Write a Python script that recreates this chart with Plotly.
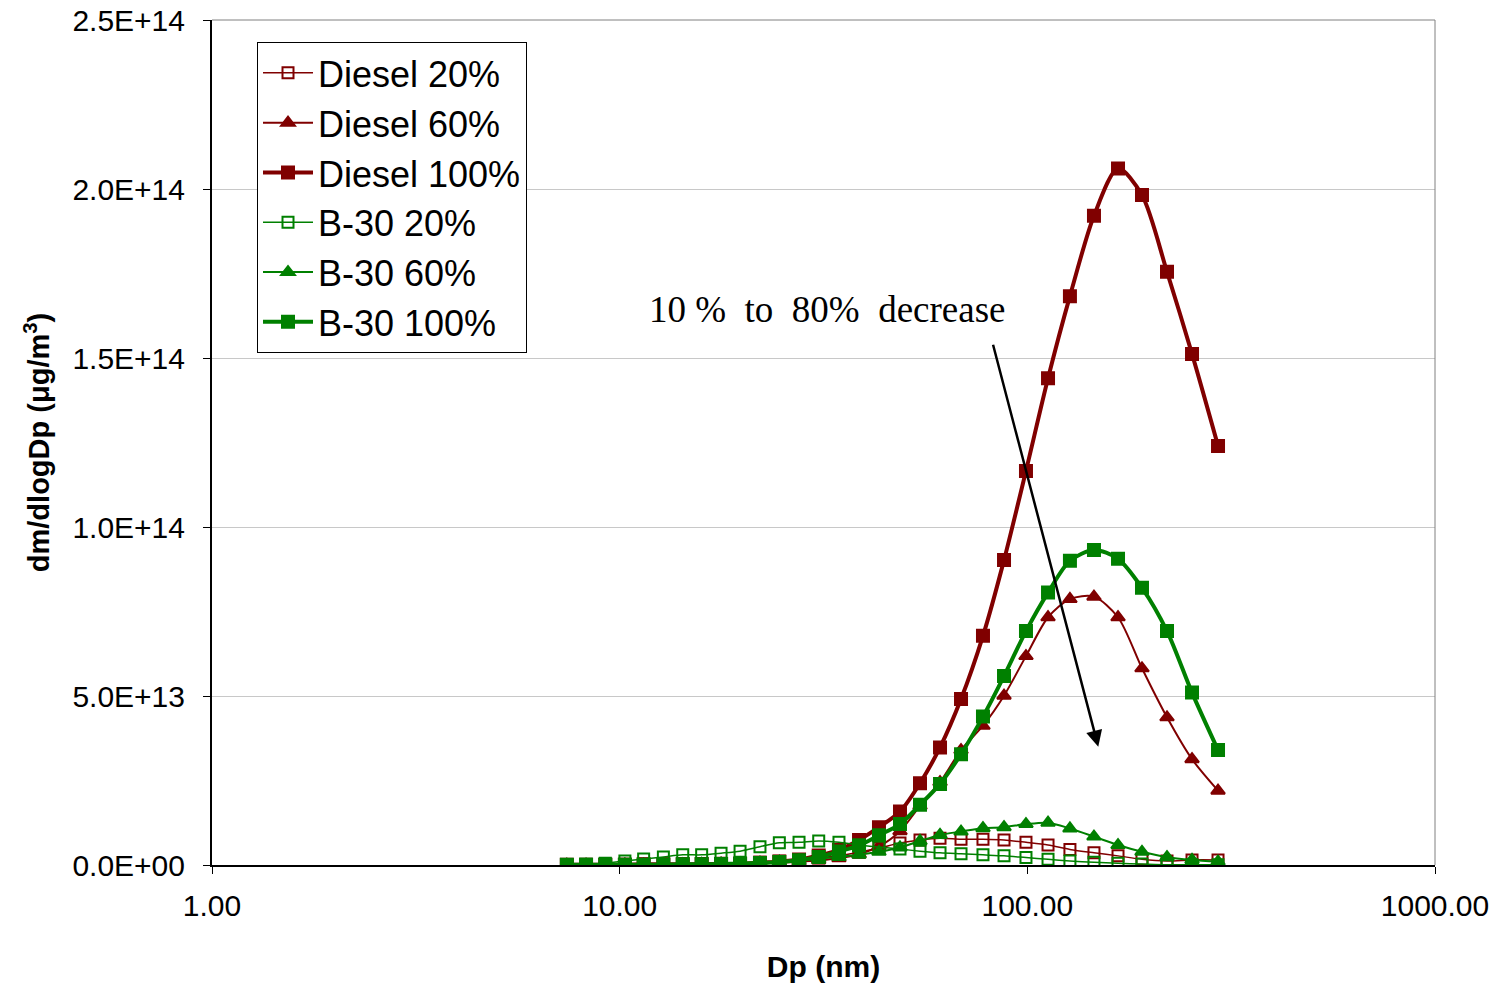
import plotly.graph_objects as go

# Particle diameter channels (nm)
dp_nm = [7.42, 8.27, 9.22, 10.30, 11.45, 12.80, 14.28, 15.89, 17.73, 19.74,
         22.09, 24.64, 27.54, 30.78, 34.51, 38.65, 43.26, 48.71, 54.54, 61.07,
         68.76, 77.84, 87.66, 99.24, 112.4, 127.2, 145.7, 166.9, 191.1, 220.1,
         253.5, 293.6]

# dm/dlogDp in units of 1E+13 ug/m3
diesel_20 = [0.01, 0.01, 0.02, 0.02, 0.03, 0.03, 0.04, 0.04, 0.05, 0.06,
             0.08, 0.11, 0.15, 0.21, 0.28, 0.38, 0.50, 0.65, 0.74, 0.79,
             0.76, 0.76, 0.74, 0.67, 0.59, 0.46, 0.36, 0.27, 0.17, 0.12,
             0.15, 0.15]
diesel_60 = [0.00, 0.00, 0.01, 0.01, 0.01, 0.01, 0.02, 0.02, 0.03, 0.04,
             0.05, 0.07, 0.10, 0.14, 0.20, 0.32, 0.55, 1.00, 1.75, 2.45,
             3.40, 4.12, 5.01, 6.18, 7.33, 7.87, 7.94, 7.33, 5.82, 4.37,
             3.13, 2.20]
diesel_100 = [0.01, 0.01, 0.01, 0.01, 0.02, 0.02, 0.02, 0.03, 0.03, 0.04,
              0.07, 0.10, 0.16, 0.28, 0.45, 0.74, 1.12, 1.58, 2.42, 3.48,
              4.91, 6.78, 9.02, 11.66, 14.40, 16.83, 19.21, 20.61, 19.82, 17.55,
              15.12, 12.40]
b30_20 = [0.01, 0.02, 0.05, 0.12, 0.18, 0.24, 0.30, 0.30, 0.35, 0.41,
          0.54, 0.66, 0.67, 0.71, 0.67, 0.59, 0.53, 0.47, 0.41, 0.36,
          0.33, 0.30, 0.27, 0.22, 0.17, 0.12, 0.08, 0.05, 0.03, 0.01,
          0.01, 0.01]
b30_60 = [0.00, 0.00, 0.01, 0.01, 0.01, 0.02, 0.02, 0.03, 0.04, 0.05,
          0.07, 0.10, 0.14, 0.19, 0.24, 0.30, 0.39, 0.52, 0.71, 0.89,
          0.99, 1.09, 1.12, 1.21, 1.25, 1.08, 0.84, 0.59, 0.39, 0.23,
          0.15, 0.10]
b30_100 = [0.01, 0.01, 0.01, 0.01, 0.01, 0.01, 0.02, 0.02, 0.03, 0.04,
           0.06, 0.09, 0.14, 0.24, 0.40, 0.58, 0.88, 1.21, 1.78, 2.40,
           3.28, 4.39, 5.59, 6.92, 8.06, 9.00, 9.32, 9.06, 8.20, 6.92,
           5.10, 3.40]

UNIT = 1e13

y_tick_vals = [0, 0.5e14, 1.0e14, 1.5e14, 2.0e14, 2.5e14]
y_tick_text = ["0.0E+00", "5.0E+13", "1.0E+14", "1.5E+14", "2.0E+14", "2.5E+14"]
x_tick_vals = [1, 10, 100, 1000]
x_tick_text = ["1.00", "10.00", "100.00", "1000.00"]

RED = "#800000"
GREEN = "#008000"

series = [
    ("Diesel 20%", diesel_20, RED, "square-open", 1.5, 11),
    ("Diesel 60%", diesel_60, RED, "triangle-up", 2, 12),
    ("Diesel 100%", diesel_100, RED, "square", 4, 12),
    ("B-30 20%", b30_20, GREEN, "square-open", 1.5, 11),
    ("B-30 60%", b30_60, GREEN, "triangle-up", 2, 12),
    ("B-30 100%", b30_100, GREEN, "square", 4, 12),
]

fig = go.Figure()
for i, (name, vals, color, symbol, lw, msize) in enumerate(series):
    fig.add_trace(go.Scatter(
        x=dp_nm,
        y=[v * UNIT for v in vals],
        mode="lines+markers",
        name=name,
        legendgroup=f"g{i}",
        line=dict(color=color, width=lw, shape="spline", smoothing=0.8),
        marker=dict(symbol=symbol, size=msize, color=color,
                    line=dict(color=color, width=2)),
    ))

SANS = "Arial, Liberation Sans, sans-serif"
AXFONT = dict(family=SANS, size=30, color="black")

fig.update_layout(
    width=1501, height=985,
    margin=dict(l=212, r=66, t=20, b=120),
    paper_bgcolor="white",
    plot_bgcolor="white",
    font=AXFONT,
    showlegend=True,
    legend=dict(
        x=0.0368, y=0.974, xanchor="left", yanchor="top",
        bgcolor="white", bordercolor="black", borderwidth=1,
        font=dict(family=SANS, size=36, color="black"),
        tracegroupgap=0,
        itemsizing="trace",
        itemwidth=50,
    ),
    xaxis=dict(
        type="log", range=[0, 3], automargin=False,
        tickvals=x_tick_vals, ticktext=x_tick_text,
        ticks="outside", ticklen=7, tickcolor="black",
        ticklabelstandoff=6,
        showline=True, linecolor="black", linewidth=2,
        mirror=False, showgrid=False, zeroline=False,
        tickfont=AXFONT,
        title=dict(text="<b>Dp (nm)</b>", font=dict(family=SANS, size=30), standoff=35),
    ),
    yaxis=dict(
        range=[0, 2.5e14], automargin=False,
        tickvals=y_tick_vals, ticktext=y_tick_text,
        ticks="outside", ticklen=7, tickcolor="black",
        ticklabelstandoff=12,
        showline=True, linecolor="black", linewidth=2,
        showgrid=True, gridcolor="#c8c8c8", gridwidth=1,
        zeroline=False,
        tickfont=AXFONT,
        title=dict(text="<b>dm/dlogDp (μg/m<sup>3</sup>)</b>",
                   font=dict(family=SANS, size=29), standoff=14),
    ),
    shapes=[
        # plot-area frame on the top and right sides
        dict(type="line", xref="paper", yref="paper", x0=0, x1=1, y0=1, y1=1,
             line=dict(color="#808080", width=1)),
        dict(type="line", xref="paper", yref="paper", x0=1, x1=1, y0=0, y1=1,
             line=dict(color="#808080", width=1)),
    ],
    annotations=[
        dict(text="10 %  to  80%  decrease", xref="paper", yref="paper",
             x=0.503, y=0.657, xanchor="center", yanchor="middle",
             showarrow=False,
             font=dict(family="Liberation Serif, Times New Roman, serif", size=37, color="black")),
        dict(text="", x=2.174, y=3.5e13, xref="x", yref="y",
             ax=-105.6, ay=-403.4, axref="pixel", ayref="pixel",
             showarrow=True, arrowhead=2, arrowsize=1.3, arrowwidth=2.5,
             arrowcolor="black"),
    ],
)

fig.write_html("out.html")
